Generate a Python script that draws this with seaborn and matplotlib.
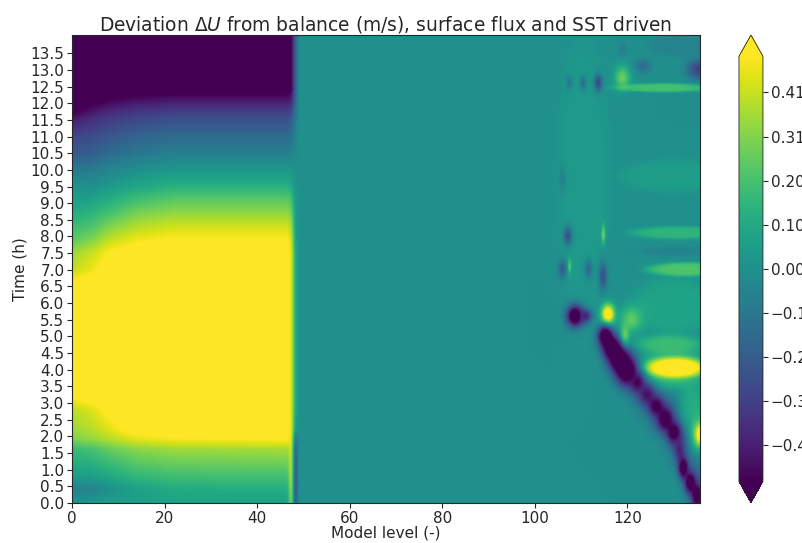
import numpy as np
import matplotlib
matplotlib.use("Agg")
import matplotlib.pyplot as plt
from matplotlib.ticker import FuncFormatter
import seaborn as sns

# ---------------- data ----------------
# Left block (model levels 0-49): node table, rows = time (h), cols = level
left_levels = [0, 4, 8, 14, 22, 46.5, 47.3, 48.3, 49.2]
left_times = [0.0, 0.4, 0.8, 1.2, 1.6, 1.9, 2.2, 2.8, 3.2, 6.6, 7.0, 7.5, 7.9,
              8.3, 8.7, 9.1, 9.5, 10.0, 10.5, 11.0, 11.5, 11.8, 12.1, 12.4, 14.05]
left_values = [
    [0.02, 0.03, 0.05, 0.06, 0.07, 0.07, 0.30, -0.20, 0.0],
    [-0.06, -0.05, 0.00, 0.07, 0.11, 0.12, 0.35, -0.22, 0.0],
    [0.05, 0.06, 0.10, 0.16, 0.19, 0.20, 0.38, -0.22, 0.0],
    [0.12, 0.13, 0.18, 0.24, 0.27, 0.28, 0.40, -0.20, 0.0],
    [0.17, 0.20, 0.26, 0.32, 0.35, 0.36, 0.42, -0.18, 0.0],
    [0.30, 0.33, 0.38, 0.45, 0.48, 0.50, 0.45, -0.10, 0.0],
    [0.35, 0.38, 0.45, 0.55, 0.55, 0.55, 0.45, 0.05, 0.0],
    [0.40, 0.44, 0.52, 0.55, 0.55, 0.55, 0.45, 0.10, 0.0],
    [0.50, 0.55, 0.55, 0.55, 0.55, 0.55, 0.45, 0.10, 0.0],
    [0.50, 0.55, 0.55, 0.55, 0.55, 0.55, 0.45, 0.10, 0.0],
    [0.40, 0.46, 0.55, 0.55, 0.55, 0.55, 0.45, 0.10, 0.0],
    [0.35, 0.41, 0.50, 0.55, 0.55, 0.55, 0.45, 0.10, 0.0],
    [0.24, 0.30, 0.40, 0.47, 0.50, 0.50, 0.42, 0.08, 0.0],
    [0.18, 0.21, 0.30, 0.38, 0.42, 0.42, 0.36, 0.06, 0.0],
    [0.12, 0.14, 0.20, 0.29, 0.33, 0.33, 0.28, 0.05, 0.0],
    [0.06, 0.07, 0.12, 0.19, 0.24, 0.24, 0.20, 0.04, 0.0],
    [0.01, 0.00, 0.04, 0.09, 0.13, 0.13, 0.10, 0.02, 0.0],
    [-0.10, -0.09, -0.05, 0.00, 0.03, 0.03, 0.02, 0.00, 0.0],
    [-0.22, -0.20, -0.15, -0.10, -0.07, -0.07, -0.06, -0.02, 0.0],
    [-0.29, -0.27, -0.23, -0.18, -0.15, -0.15, -0.13, -0.05, 0.0],
    [-0.42, -0.36, -0.32, -0.28, -0.25, -0.25, -0.22, -0.08, 0.0],
    [-0.55, -0.46, -0.40, -0.36, -0.33, -0.33, -0.30, -0.12, 0.0],
    [-0.55, -0.55, -0.50, -0.46, -0.44, -0.44, -0.40, -0.15, 0.0],
    [-0.55, -0.55, -0.55, -0.55, -0.55, -0.55, -0.50, -0.18, 0.0],
    [-0.55, -0.55, -0.55, -0.55, -0.55, -0.55, -0.50, -0.18, 0.0],
]

# Upper-level region (levels 49-136): background value and local features
right_background = 0.0
feat_level = [110.5, 130.0, 130.0, 131.0,
              131.0, 131.0, 133.0, 128.0,
              119.0, 107.5, 110.5, 113.8, 123.5, 135.5, 119.0, 106.0,
              107.2, 106.0, 107.6, 111.7, 114.8, 114.9,
              129.0, 134.0,
              124.0, 128.0, 131.5, 134.5,
              108.8, 111.0, 115.9, 121.0, 119.5,
              130.0, 130.5, 135.5, 135.8,
              115.3, 116.7, 118.3, 120.0, 122.3, 124.3, 126.3, 128.3,
              130.2, 131.3, 132.2, 133.7, 135.2]
feat_time = [9.8, 9.8, 5.9, 13.7,
             8.1, 7.55, 7.0, 12.45,
             12.75, 12.6, 12.6, 12.6, 13.1, 13.0, 13.6, 9.7,
             8.0, 7.0, 7.1, 7.0, 6.8, 8.05,
             4.75, 2.6,
             3.3, 2.6, 1.7, 0.6,
             5.6, 5.6, 5.65, 5.5, 4.95,
             4.05, 4.05, 2.05, 2.05,
             5.0, 4.65, 4.3, 3.95, 3.6, 3.25, 2.9, 2.5,
             2.1, 1.6, 1.05, 0.6, 0.2]
feat_dlevel = [6.0, 12.0, 9.0, 7.0,
               10.5, 9.0, 9.0, 11.0,
               1.7, 0.7, 0.7, 0.9, 1.7, 2.5, 0.9, 0.7,
               0.9, 0.9, 0.35, 0.9, 0.9, 0.4,
               7.5, 3.0,
               3.0, 3.0, 2.5, 2.2,
               1.8, 1.4, 1.4, 2.4, 1.0,
               7.5, 6.2, 1.5, 0.8,
               1.6, 2.0, 2.2, 2.4, 1.6, 1.6, 1.7, 1.6,
               1.6, 1.0, 1.1, 1.1, 1.1]
feat_dtime = [4.5, 0.5, 0.9, 0.35,
              0.2, 0.15, 0.22, 0.14,
              0.35, 0.2, 0.2, 0.25, 0.2, 0.3, 0.2, 0.4,
              0.28, 0.28, 0.22, 0.28, 0.42, 0.28,
              0.3, 1.1,
              0.55, 0.55, 0.6, 0.8,
              0.32, 0.2, 0.3, 0.4, 0.35,
              0.6, 0.3, 0.45, 0.25,
              0.3, 0.35, 0.4, 0.45, 0.3, 0.3, 0.3, 0.33,
              0.33, 0.3, 0.33, 0.3, 0.35]
feat_value = [0.04, 0.06, 0.08, -0.05,
              0.15, -0.05, 0.22, 0.20,
              0.27, -0.10, -0.15, -0.28, -0.15, -0.30, -0.08, -0.06,
              -0.25, -0.20, 0.25, -0.15, -0.25, 0.30,
              0.18, 0.12,
              -0.20, -0.25, -0.20, -0.20,
              -0.70, -0.40, 0.65, 0.25, 0.35,
              0.20, 0.62, 0.30, 0.62,
              -0.70, -0.70, -0.70, -0.70, -0.50, -0.45, -0.55, -0.60,
              -0.60, -0.40, -0.65, -0.65, -0.65]
feat_flat = [3, 3, 3, 3,
             3, 3, 3, 3,
             1, 1, 1, 1, 1, 1, 1, 1,
             1, 1, 1, 1, 1, 1,
             2, 2,
             1, 1, 1, 1,
             1, 1, 1, 1, 1,
             2, 2, 1, 1,
             1, 1, 1, 1, 1, 1, 1, 1,
             1, 1, 1, 1, 1]

x_ticks = [0, 20, 40, 60, 80, 100, 120]
y_ticks = [0.5 * i for i in range(28)]
cbar_ticks = [-0.41, -0.3075, -0.205, -0.1025, 0.0, 0.1025, 0.205, 0.3075, 0.41]
vmin, vmax = -0.494, 0.494
level_max, time_max = 135.7, 14.05

# ---------------- build the field ----------------
L = np.linspace(0, level_max, 600)
T = np.linspace(0, time_max, 720)
lv = np.array(left_values)
rows = np.array([np.interp(L, left_levels, r) for r in lv])          # (nt, nL)
left_field = np.array([np.interp(T, left_times, rows[:, j]) for j in range(len(L))]).T
field = np.where(L[None, :] <= left_levels[-1], left_field, right_background)

LL, TT = np.meshgrid(L, T)
for l0, t0, dl, dt, v, p in zip(feat_level, feat_time, feat_dlevel, feat_dtime, feat_value, feat_flat):
    r2 = ((LL - l0) / dl) ** 2 + ((TT - t0) / dt) ** 2
    w = np.exp(-(r2 ** p))
    w[LL < left_levels[-1]] = 0
    field = field + w * (v - field)

# ---------------- draw ----------------
sns.set_style("ticks")
plt.rcParams['font.family'] = ['DejaVu Sans']
cmap = sns.color_palette("viridis", as_cmap=True)

fig = plt.figure(figsize=(8.02, 5.43), dpi=100)
ax = fig.add_axes([0.0898, 0.0737, 0.7830, 0.8619])
cax = fig.add_axes([0.9214, 0.0742, 0.0299, 0.8613])

im = ax.imshow(field, origin='lower', extent=(0, level_max, 0, time_max),
               aspect='auto', cmap=cmap, vmin=vmin, vmax=vmax, interpolation='bilinear')
ax.set_xticks(x_ticks)
ax.set_yticks(y_ticks)
ax.set_yticklabels([f"{t:.1f}" for t in y_ticks])
ax.set_xlim(0, level_max)
ax.set_ylim(0, time_max)
ax.tick_params(labelsize=11, length=3.5, pad=2)
ax.set_xlabel("Model level (-)", fontsize=11, labelpad=0)
ax.set_ylabel("Time (h)", fontsize=11, labelpad=2)
ax.set_title(r"Deviation $\Delta U$ from balance (m/s), surface flux and SST driven",
             fontsize=13.4, pad=3)

cb = fig.colorbar(im, cax=cax, extend='both', ticks=cbar_ticks,
                  format=FuncFormatter(lambda x, pos: f"{x:.2f}".replace('-', '\u2212')))
cb.ax.tick_params(labelsize=11, length=3.5, pad=2)
cb.outline.set_linewidth(0.6)

fig.savefig("out.png", dpi=100)
